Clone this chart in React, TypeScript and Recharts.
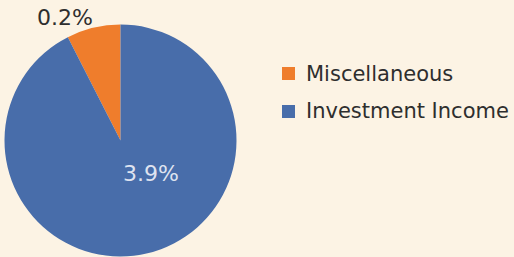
import React from "react";
import { PieChart, Pie, Cell } from "recharts";

const categories = ["Miscellaneous", "Investment Income"];
const sliceShares = [7.5, 92.5];
const valueLabels = ["0.2%", "3.9%"];

const colors = ["#ef7d2c", "#486daa"];
const labelColors = ["#2e2e2e", "#dfe3f0"];
// label placement: [radius factor relative to outer radius, angle offset in degrees]
const labelPlacement: [number, number][] = [
  [1.16, 10.9],
  [0.385, 29.5],
];

const data = categories.map((name, i) => ({
  name,
  value: sliceShares[i],
  label: valueLabels[i],
}));

const FONT = "'DejaVu Sans', sans-serif";
const RAD = Math.PI / 180;

const renderLabel = (props: any) => {
  const { cx, cy, midAngle, outerRadius, index } = props;
  const [rf, off] = labelPlacement[index];
  const a = (midAngle + off) * RAD;
  const r = outerRadius * rf;
  const x = cx + r * Math.cos(a);
  const y = cy - r * Math.sin(a);
  return (
    <text
      x={x}
      y={y}
      fill={labelColors[index]}
      textAnchor="middle"
      dominantBaseline="central"
      fontFamily={FONT}
      fontSize={22}
    >
      {valueLabels[index]}
    </text>
  );
};

export default function App() {
  return (
    <div
      style={{
        position: "fixed",
        left: 0,
        top: 0,
        width: 514,
        height: 257,
        background: "#fcf3e4",
        overflow: "hidden",
      }}
    >
      <PieChart width={514} height={257} margin={{ top: 0, right: 0, bottom: 0, left: 0 }}>
        <Pie
          data={data}
          dataKey="value"
          nameKey="name"
          cx={120.5}
          cy={140.5}
          outerRadius={116}
          startAngle={90}
          endAngle={450}
          stroke="none"
          label={renderLabel}
          labelLine={false}
          isAnimationActive={false}
        >
          {data.map((d, i) => (
            <Cell key={d.name} fill={colors[i]} />
          ))}
        </Pie>
      </PieChart>
      <div
        style={{
          position: "absolute",
          left: 282,
          top: 55,
          fontFamily: FONT,
          fontSize: 21,
          color: "#2e2e2e",
        }}
      >
        {categories.map((c, i) => (
          <div
            key={c}
            style={{ display: "flex", alignItems: "center", height: 37.5, whiteSpace: "nowrap" }}
          >
            <span
              style={{
                display: "inline-block",
                width: 13,
                height: 13,
                background: colors[i],
                marginRight: 11,
              }}
            />
            <span>{c}</span>
          </div>
        ))}
      </div>
    </div>
  );
}
